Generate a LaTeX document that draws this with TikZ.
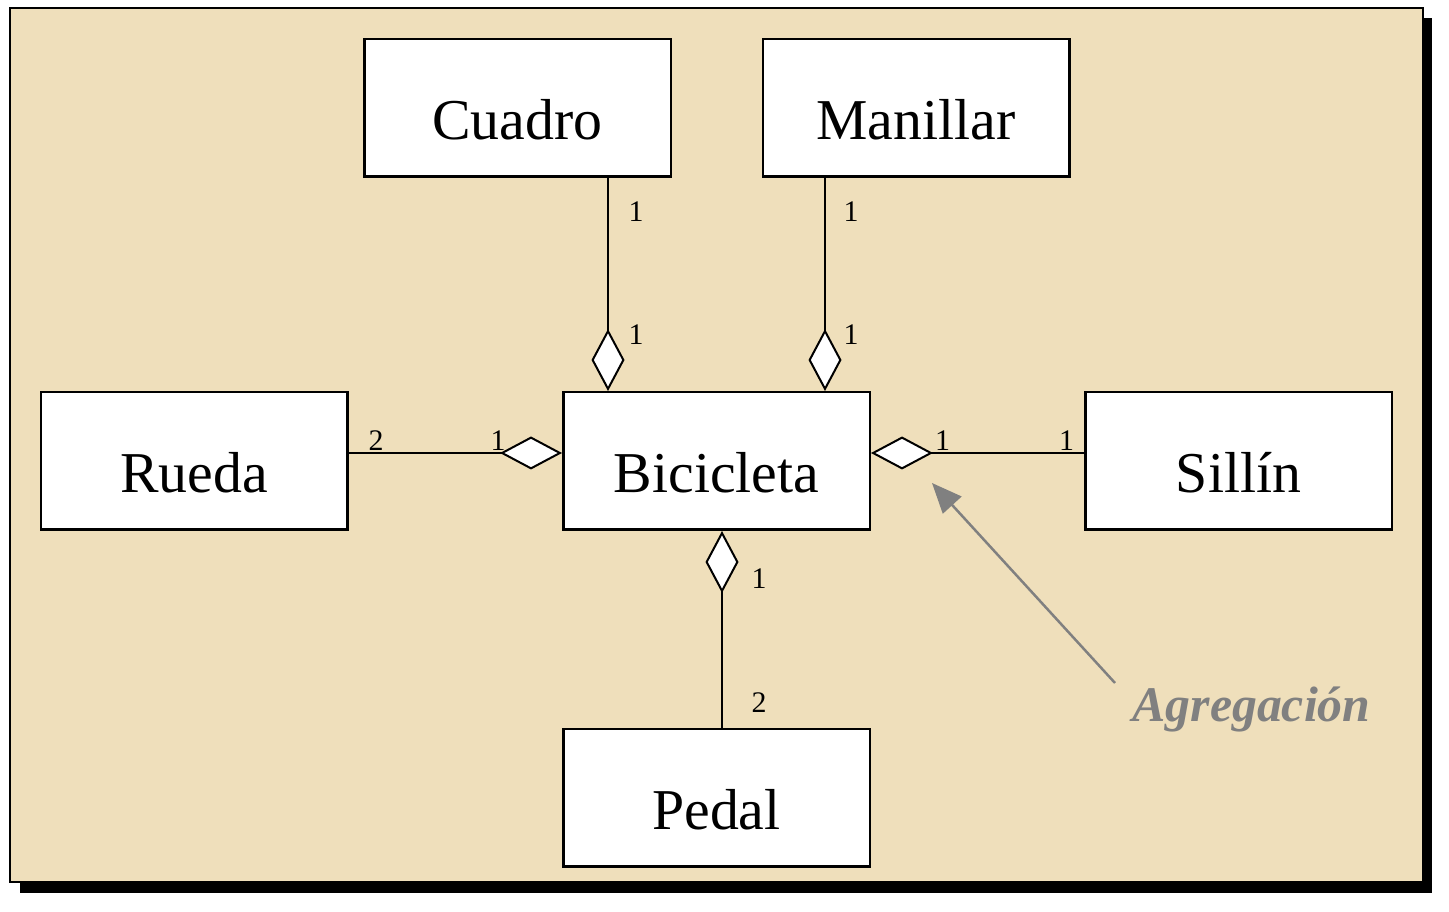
\documentclass[tikz,border=0pt]{standalone}
\usepackage{fontspec}
\setmainfont{Liberation Serif}
\usetikzlibrary{arrows.meta}
\definecolor{parchment}{RGB}{239,223,187}
\definecolor{agreggray}{RGB}{128,128,128}
\tikzset{
  classbox/.style={draw=black,fill=white,line width=2.5bp,inner sep=0pt,
    minimum width=306.5bp,minimum height=137.5bp,
    text height=64bp,text depth=0bp,font=\fontsize{58}{70}\selectfont},
  mult/.style={inner sep=0pt,font=\fontsize{30}{36}\selectfont},
  aggr/.style={line width=2bp,{Diamond[fill=white,length=62bp,width=33bp]}-},
}
\begin{document}
\begin{tikzpicture}[>=latex,line join=miter,]
\useasboundingbox (0bp,0bp) rectangle (1449bp,912bp);
%% frame
\fill [black] (20bp,894bp) rectangle (1432bp,19bp);
\draw [line width=2.5bp,fill=parchment] (10bp,904bp) rectangle (1423bp,30bp);
%%
\node (node_cuadro) at (517.5bp,804bp) [classbox] {Cuadro};
  \node (node_manillar) at (916bp,804bp) [classbox] {Manillar};
  \node (node_rueda) at (194bp,451bp) [classbox] {Rueda};
  \node (node_bici) at (716.5bp,451bp) [classbox] {Bicicleta};
  \node (node_sillin) at (1238.5bp,451bp) [classbox] {Sillín};
  \node (node_pedal) at (716.5bp,114bp) [classbox] {Pedal};
%
  \draw [aggr] ([xshift=46bp]node_bici.north west) -- ([xshift=46bp]node_bici.north west |- node_cuadro.south);
  \draw [aggr] ([xshift=-46bp]node_bici.north east) -- ([xshift=-46bp]node_bici.north east |- node_manillar.south);
  \draw [aggr] ([yshift=8bp]node_bici.west) -- ([yshift=8bp]node_bici.west -| node_rueda.east);
  \draw [aggr] ([yshift=8bp]node_bici.east) -- ([yshift=8bp]node_bici.east -| node_sillin.west);
  \draw [aggr] ([xshift=5.5bp]node_bici.south) -- ([xshift=5.5bp]node_bici.south |- node_pedal.north);
%
  \node (mult_cuadro_a) at (636bp,700bp) [mult] {1};
  \node (mult_cuadro_b) at (636bp,577bp) [mult] {1};
  \node (mult_manillar_a) at (851bp,700bp) [mult] {1};
  \node (mult_manillar_b) at (851bp,577bp) [mult] {1};
  \node (mult_rueda_a) at (376bp,471bp) [mult] {2};
  \node (mult_rueda_b) at (498bp,471bp) [mult] {1};
  \node (mult_sillin_a) at (942.5bp,471bp) [mult] {1};
  \node (mult_sillin_b) at (1066.5bp,471bp) [mult] {1};
  \node (mult_pedal_a) at (759bp,333bp) [mult] {1};
  \node (mult_pedal_b) at (759bp,209bp) [mult] {2};
%
  \node (node_agreg) at (1251.5bp,190bp) [anchor=base,inner sep=0pt,text=agreggray,font=\fontsize{50}{60}\selectfont\bfseries\itshape] {Agregación};
  \coordinate (agreg_start) at (1115bp,229bp);
  \coordinate (agreg_tip) at (932bp,429bp);
  \draw [agreggray,line width=2.5bp,-{Triangle[length=30bp,width=25bp]}] (agreg_start) -- (agreg_tip);
%
\end{tikzpicture}
\end{document}
